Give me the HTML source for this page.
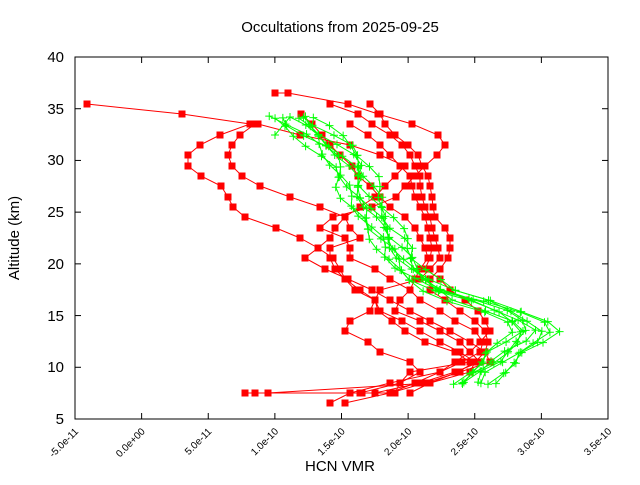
<!DOCTYPE html>
<html><head><meta charset="utf-8"><style>
body{margin:0;background:#fff}
svg text{font-family:"Liberation Sans",sans-serif}
</style></head><body>
<svg id="s" width="640" height="480" xmlns="http://www.w3.org/2000/svg">
<rect width="640" height="480" fill="#fff"/>
<text x="340" y="32" font-size="15" text-anchor="middle">Occultations from 2025-09-25</text>
<g id="data"></g>
<rect x="75" y="57" width="533" height="362" fill="none" stroke="#000" stroke-width="1"/>
<g stroke="#000" stroke-width="1" id="ticks"></g>
<g font-size="15" text-anchor="end">
<text x="64" y="424">5</text><text x="64" y="372">10</text><text x="64" y="321">15</text><text x="64" y="269">20</text><text x="64" y="217">25</text><text x="64" y="165">30</text><text x="64" y="114">35</text><text x="64" y="62">40</text>
</g>
<g font-size="10" text-anchor="end" id="xl"></g>
<text x="340" y="471" font-size="15" text-anchor="middle">HCN VMR</text>
<text transform="translate(19,238) rotate(-90)" font-size="15" text-anchor="middle">Altitude (km)</text>
</svg>
<script>
var NS="http://www.w3.org/2000/svg";
function el(n,a,p){var e=document.createElementNS(NS,n);for(var k in a)e.setAttribute(k,a[k]);(p||document.getElementById('data')).appendChild(e);return e;}
var tk=document.getElementById('ticks'),xl=document.getElementById('xl');
var labs=["-5.0e-11","0.0e+00","5.0e-11","1.0e-10","1.5e-10","2.0e-10","2.5e-10","3.0e-10","3.5e-10"];
for(var i=0;i<9;i++){var x=75+i*66.625;el('line',{x1:x,y1:419,x2:x,y2:413},tk);el('line',{x1:x,y1:57,x2:x,y2:63},tk);
var t=el('text',{x:x+4,y:432,transform:'rotate(-45 '+(x+4)+' 432)'},xl);t.textContent=labs[i];}
for(var j=0;j<8;j++){var y=419-j*51.714;el('line',{x1:75,y1:y,x2:81,y2:y},tk);el('line',{x1:608,y1:y,x2:602,y2:y},tk);}
var Y=[104,114,124,135,145,155,166,176,186,197,207,217,228,238,248,258,269,279,290,300,311,321,331,342,352,362,372,383,393,403];
var R=[
[[87,104],[182,114],[250,124],[220,135],[200,145],[188,155],[188,166],[201,176],[221,186],[228,197],[233,207],[245,217],[276,228],[300,238],[318,248],[333,258],[340,269],[345,279],[360,290],[375,300],[378,311],[392,321],[405,331],[425,342],[455,352],[470,362],[410,372],[400,383],[360,393],[245,393]],
[[275,93],[288,93],[348,104],[378,114],[412,124],[438,135],[445,145],[437,155],[425,166],[415,176],[405,186],[396,197],[372,207],[333,217],[320,228],[345,238],[350,248],[350,258],[375,269],[390,279],[410,290],[420,300],[440,311],[455,321],[475,331],[483,342],[480,352],[462,362],[440,372],[390,383],[350,393],[330,403]],
[[330,104],[358,114],[372,124],[390,135],[402,145],[410,155],[415,166],[420,176],[420,186],[422,197],[425,207],[430,217],[432,228],[435,238],[438,248],[440,258],[430,269],[420,279],[380,290],[375,300],[370,311],[350,321],[345,331],[368,342],[380,352],[410,362],[420,372],[400,383],[395,393],[362,393]],
[[301,114],[312,124],[322,135],[330,145],[340,155],[352,166],[358,176],[370,186],[380,197],[390,207],[405,217],[415,228],[420,238],[425,248],[428,258],[420,269],[415,279],[410,290],[400,300],[395,311],[420,321],[440,331],[460,342],[470,352],[480,362],[455,372],[420,383],[375,393]],
[[255,124],[240,135],[232,145],[228,155],[232,166],[242,176],[260,186],[290,197],[320,207],[345,217],[350,228],[360,238],[330,248],[330,258],[335,269],[345,279],[355,290],[375,300],[380,311],[402,321],[420,331],[440,342],[460,352],[475,362],[470,372],[430,383],[268,393],[255,393]],
[[258,124],[300,135],[350,145],[380,155],[405,166],[395,176],[385,186],[375,197],[360,207],[345,217],[335,228],[330,238],[318,248],[305,258],[325,269],[348,279],[372,290],[390,300],[410,311],[430,321],[450,331],[470,342],[485,352],[490,362],[460,372],[425,383],[390,393],[345,403]],
[[370,104],[380,114],[385,124],[395,135],[408,145],[418,155],[422,166],[428,176],[430,186],[432,197],[433,207],[435,217],[445,228],[450,238],[450,248],[448,258],[440,269],[430,279],[430,290],[445,300],[460,311],[475,321],[485,331],[488,342],[485,352],[475,362],[458,372],[430,383],[410,393]],
[[350,124],[368,135],[380,145],[390,155],[400,166],[410,176],[412,186],[415,197],[420,207],[425,217],[428,228],[430,238],[432,248],[430,258],[425,269],[440,279],[450,290],[465,300],[478,311],[485,321],[490,331],[480,342],[470,352],[455,362],[440,372],[415,383],[390,393]]
];
R.forEach(function(p){el('polyline',{points:p.map(function(q){return q.join(',')}).join(' '),fill:'none',stroke:'#f00','stroke-width':1});
p.forEach(function(q){el('rect',{x:q[0]-3.5,y:q[1]-3.5,width:7,height:7,fill:'#f00'});});});
var G0=[[290,117],[300,125],[315,135],[330,145],[340,155],[348,166],[352,176],[356,186],[362,197],[368,207],[374,217],[380,228],[388,238],[395,248],[400,258],[408,269],[420,279],[440,290],[470,300],[500,311],[520,321],[530,331],[520,342],[505,352],[495,362],[480,372],[470,383]];
var off=[[0,0],[-20,4],[10,-2],[-8,3],[18,1],[-15,-3],[25,2],[5,4]];
off.forEach(function(o,k){var pts=G0.map(function(q,i){var f=Math.sin(i*1.3+k)*6;var sc=i>17?(k-3)*4:0;return [q[0]+o[0]*(1-i/40)+f+sc,q[1]+o[1]*0.3];});
if(k==0)pts.unshift([275,135]);
el('polyline',{points:pts.map(function(q){return q.join(',')}).join(' '),fill:'none',stroke:'#0f0','stroke-width':1});
pts.forEach(function(q){el('path',{d:'M'+(q[0]-4)+' '+q[1]+'h8M'+q[0]+' '+(q[1]-4)+'v8',stroke:'#0f0','stroke-width':1});});});
</script>
</body></html>
